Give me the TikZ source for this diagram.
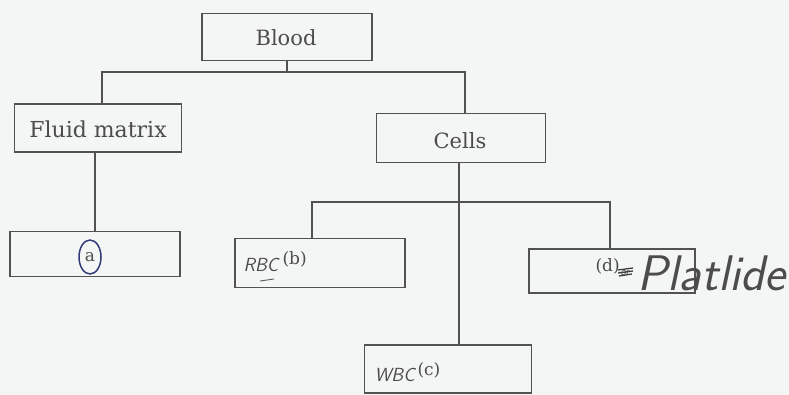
\documentclass[tikz,border=0pt]{standalone}
\usepackage{fontspec}
\setmainfont{DejaVu Serif}
\begin{document}
\begin{tikzpicture}[x=1pt,y=-1pt,
  ink/.style={draw=black!68,line width=1.1pt},
  box/.style={ink,rectangle,inner sep=0pt},
  printed/.style={text=black!70,font=\fontsize{21}{24}\selectfont},
  small/.style={text=black!70,font=\fontsize{17}{20}\selectfont},
  hand/.style={text=black!70,font=\sffamily\itshape\fontsize{19}{22}\selectfont},
  link/.style={ink}]
  % paper
  \fill[fill={rgb,255:red,244;green,246;blue,245}] (0,0) rectangle (789,395);
  \useasboundingbox (0,0) rectangle (789,395);

  % boxes
  \node[box,minimum width=170pt,minimum height=47pt] (blood) at (287,37) {};
  \node[box,minimum width=167pt,minimum height=48pt] (fluid) at (98,128) {};
  \node[box,minimum width=169pt,minimum height=49pt] (cells) at (461,138) {};
  \node[box,minimum width=170pt,minimum height=45pt] (plasma) at (95,254) {};
  \node[box,minimum width=170pt,minimum height=49pt] (rbc) at (320,263) {};
  \node[box,minimum width=166pt,minimum height=44pt] (plate) at (612,271) {};
  \node[box,minimum width=167pt,minimum height=48pt] (wbc) at (448,369) {};

  % printed labels
  \node[printed] (tblood) at (286,38) {Blood};
  \node[printed,font=\fontsize{22}{24}\selectfont] (tfluid) at (98,129) {Fluid matrix};
  \node[printed] (tcells) at (460,141) {Cells};
  \node[small] (ta) at (90,257) {a};
  \draw[draw={rgb,255:red,50;green,60;blue,120},line width=1.5pt]
    (ta) ellipse (11pt and 17pt);

  % labels written in by hand, with the printed letters
  \node[hand,anchor=west] (trbc) at (240,265) {RBC};
  \draw[draw=black!65,line width=0.9pt] (260,281) -- (274,279);
  \node[small,anchor=west] (tb) at (279,259) {(b)};
  \node[hand,anchor=west] (twbc) at (371,375) {WBC};
  \node[small,anchor=west] (tc) at (414,370) {(c)};
  \node[small,anchor=west] (td) at (592,266) {(d)};
  \node[hand,anchor=west,font=\sffamily\itshape\fontsize{11}{12}\selectfont] (tor) at (617,273) {or};
  \draw[draw=black!75,line width=1.3pt] (618,270) -- (633,268) (618,273) -- (633,271) (619,276) -- (632,274);
  \node[hand,anchor=base west,font=\sffamily\itshape\fontsize{50}{52}\selectfont] (tplt) at (634,290) {Platlide};

  % connectors
  \coordinate (bj) at (287,72);
  \coordinate (cj) at (460,202);
  \draw[link] (blood.south) -- (bj);
  \draw[link] ([xshift=4pt]fluid.north) |- (bj) -| ([xshift=4pt]cells.north);
  \draw[link] ([xshift=-3pt]fluid.south) -- (plasma.north);
  \draw[link] ([xshift=-2pt]cells.south) -- ([xshift=-2pt]cells.south |- wbc.north);
  \draw[link] ([xshift=-8pt]rbc.north) |- (cj) -| ([xshift=-2pt]plate.north);
\end{tikzpicture}
\end{document}
